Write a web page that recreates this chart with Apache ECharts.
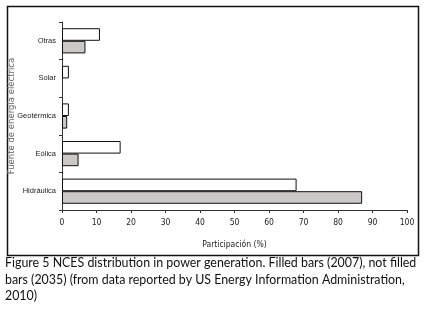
<!DOCTYPE html>
<html>
<head>
<meta charset="utf-8">
<script src="https://cdn.jsdelivr.net/npm/echarts@6/dist/echarts.min.js"></script>
<style>
  html, body { margin: 0; padding: 0; background: #fff; }
  #chart { width: 426px; height: 309px; }
</style>
</head>
<body>
<div id="chart"></div>
<script>
// categorias de abajo hacia arriba
const categories = ["Hidráulica", "Eólica", "Geotérmica", "Solar", "Otras"];
const values2035 = [68, 17, 2, 2, 11];   // barras sin relleno
const values2007 = [87, 4.8, 1.5, 0, 6.8]; // barras rellenas
const xTicks = { min: 0, max: 100, interval: 10 };

const captionLines = [
    "Figure 5 NCES distribution in power generation. Filled bars (2007), not filled",
    "bars (2035) (from data reported by US Energy Information Administration,",
    "2010)"
];

const narrow = "'DejaVu Sans Condensed', 'Liberation Sans', sans-serif";

const chart = echarts.init(document.getElementById("chart"));

// una barra de valor 0 no se dibuja (sin borde)
const filled = values2007.map(v => (v === 0 ? { value: v, itemStyle: { borderWidth: 0 } } : v));

const option = {
    animation: false,
    backgroundColor: "#fff",
    grid: { left: 62, right: 19, top: 22, bottom: 99, outerBoundsMode: "none", containLabel: false },
    xAxis: {
        type: "value",
        min: xTicks.min,
        max: xTicks.max,
        interval: xTicks.interval,
        name: "Participación (%)",
        nameLocation: "middle",
        nameGap: 30,
        nameMoveOverlap: false,
        nameTextStyle: { fontFamily: narrow, fontSize: 8.5, color: "#222" },
        axisLine: { show: true, lineStyle: { color: "#333", width: 1 } },
        axisTick: { show: true, length: 3, lineStyle: { color: "#333" } },
        axisLabel: { fontFamily: narrow, fontSize: 8.5, color: "#222", margin: 8 },
        splitLine: { show: false }
    },
    yAxis: {
        type: "category",
        data: categories,
        name: "Fuente de energía eléctrica",
        nameLocation: "middle",
        nameGap: 46,
        nameMoveOverlap: false,
        nameRotate: 90,
        nameTextStyle: { fontFamily: "DejaVu Sans", fontSize: 8.5, color: "#666" },
        axisLine: { show: true, lineStyle: { color: "#333", width: 1 } },
        axisTick: { show: true, length: 3, lineStyle: { color: "#333" } },
        axisLabel: { fontFamily: "Liberation Sans", fontSize: 7.5, color: "#222", margin: 6 }
    },
    series: [
        {
            name: "2035",
            type: "bar",
            data: values2035,
            barGap: "0%",
            barCategoryGap: "33%",
            itemStyle: { color: "#fff", borderColor: "#111", borderWidth: 1 }
        },
        {
            name: "2007",
            type: "bar",
            data: filled,
            barGap: "0%",
            barCategoryGap: "33%",
            itemStyle: { color: "#cbc9c6", borderColor: "#111", borderWidth: 1 }
        }
    ],
    graphic: [
        {
            type: "rect",
            shape: { x: 7.5, y: 6.5, width: 411, height: 249 },
            style: { fill: null, stroke: "#111", lineWidth: 1.5 },
            silent: true
        },
        {
            type: "group",
            left: 5,
            top: 257,
            children: captionLines.map((line, i) => ({
                type: "text",
                x: 0,
                y: i * 16.5,
                style: {
                    text: line,
                    fontFamily: "Lato",
                    fontSize: 12.4,
                    fill: "#111"
                }
            }))
        }
    ]
};

chart.setOption(option);
</script>
</body>
</html>
